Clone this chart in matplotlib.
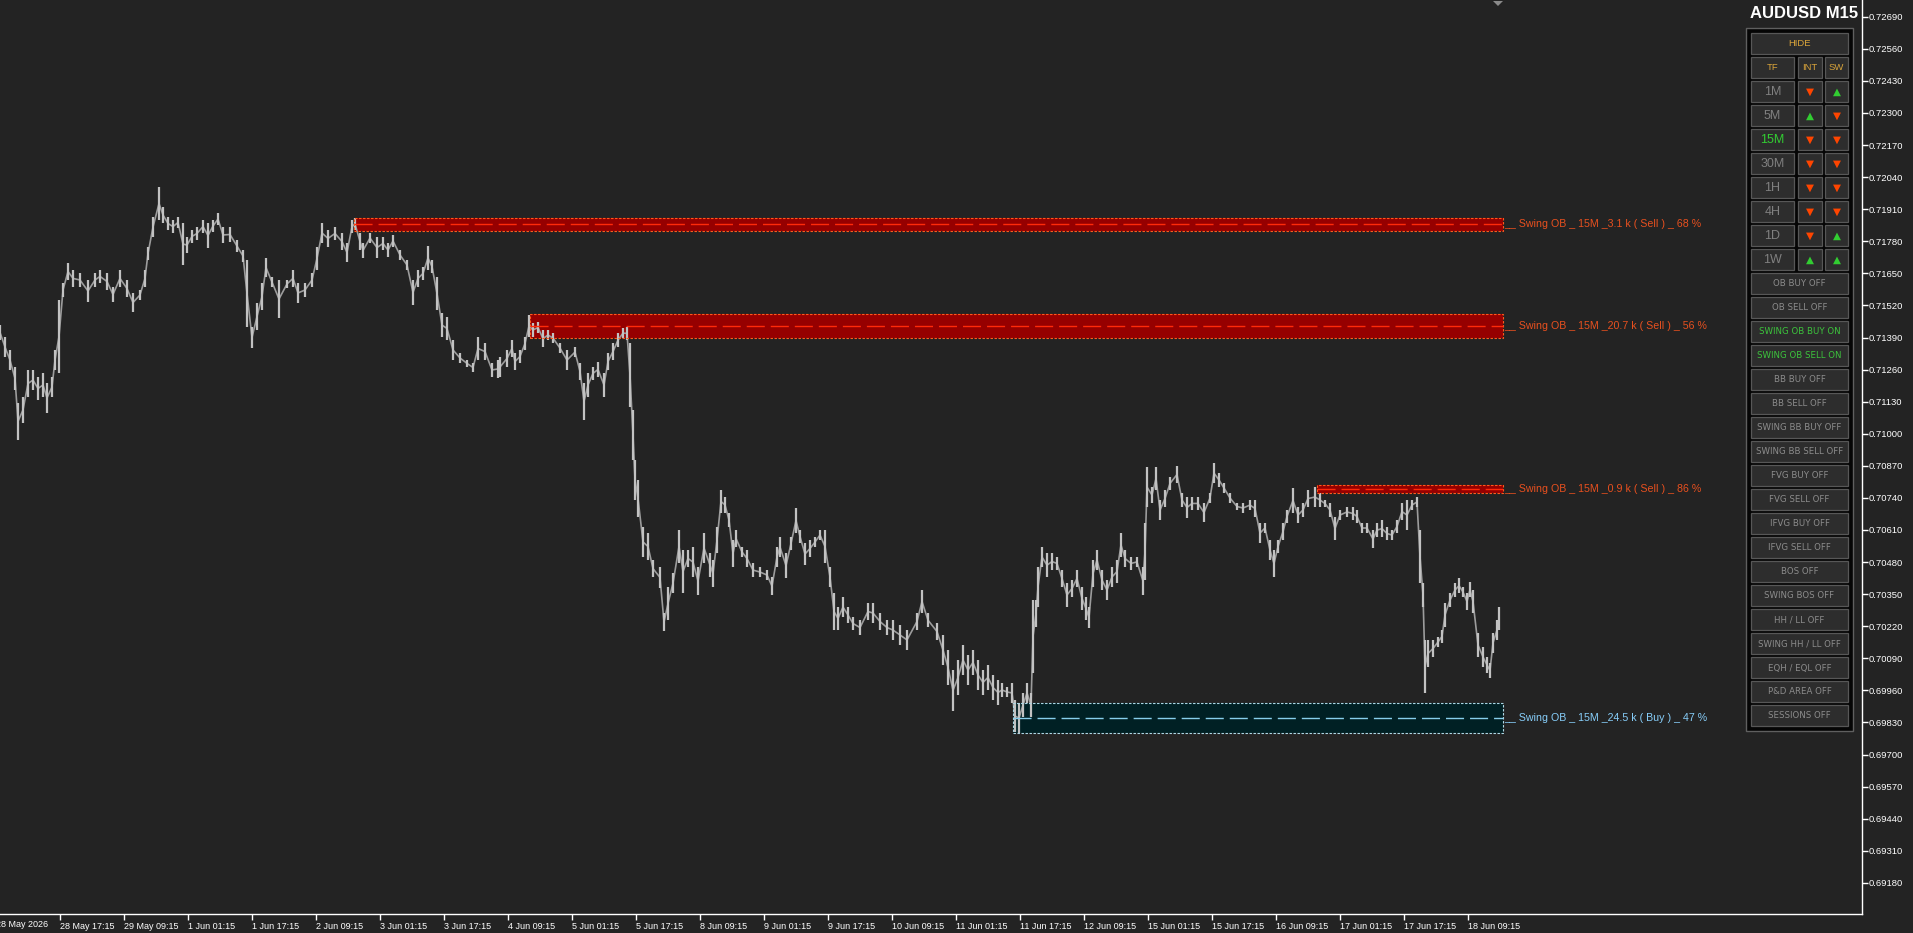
import matplotlib.pyplot as plt
from matplotlib.patches import Rectangle, Polygon
from matplotlib.transforms import blended_transform_factory
import numpy as np

BG = "#232323"

symbol_title = "AUDUSD M15"

bar_x = [
    0, 5, 10, 15, 18, 23, 28, 33, 38, 43, 47, 52, 55, 59, 63, 68, 73, 80, 88, 95,
    100, 107, 113, 120, 127, 133, 140, 145, 148, 153, 159, 163, 168, 173, 178, 183, 187, 192, 197, 203,
    208, 213, 218, 223, 230, 237, 243, 247, 252, 257, 262, 266, 272, 279, 287, 293, 298, 305, 312, 317,
    322, 328, 335, 342, 347, 352, 355, 360, 363, 370, 377, 383, 388, 393, 400, 407, 413, 418, 423, 428,
    432, 437, 442, 447, 453, 460, 467, 473, 478, 485, 492, 498,
    500, 507, 512, 515, 520, 525, 529, 533, 538, 543, 548, 553, 560, 567, 575, 580, 584, 588, 593, 598,
    604, 608, 613, 618, 623, 627, 630, 633, 635, 638, 643, 648, 653, 660, 664, 668, 673, 679, 683, 688,
    693, 698, 704, 710, 713, 717, 721, 725, 729, 733, 736, 742, 747, 753, 760, 767, 772, 777, 780, 786,
    791, 796, 800, 805, 810, 815, 820, 825, 830, 834, 838, 843, 848, 853, 860, 868, 873, 880, 887, 893,
    900, 907, 917, 922, 928, 937, 943, 948, 953, 958, 963, 968, 973, 978, 983, 988, 993, 998,
    1002, 1007, 1012, 1015, 1019, 1023, 1027, 1031, 1033, 1036, 1038, 1042, 1047, 1052, 1057, 1062, 1067, 1072, 1077, 1082,
    1086, 1089, 1093, 1097, 1102, 1107, 1112, 1117, 1121, 1125, 1131, 1137, 1143, 1145, 1147, 1152, 1156, 1160, 1165, 1170,
    1177, 1182, 1187, 1192, 1198, 1204, 1210, 1214, 1219, 1224, 1230, 1237, 1243, 1250, 1255, 1260, 1265, 1270, 1274, 1278,
    1283, 1287, 1293, 1298, 1303, 1308, 1315, 1320, 1325, 1330, 1335, 1340, 1347, 1353, 1357, 1362, 1367, 1373, 1377, 1382,
    1387, 1392, 1397, 1402, 1407, 1412, 1417, 1420, 1423, 1425, 1428, 1433, 1438, 1442, 1445, 1450, 1455, 1459, 1463, 1467,
    1470, 1473, 1478, 1483, 1487, 1490, 1493, 1497, 1499,
]

bar_high = [
    0.71441, 0.71392, 0.71339, 0.71271, 0.71125, 0.71149, 0.71258, 0.71258, 0.71230, 0.71246,
    0.71206, 0.71230, 0.71339, 0.71542, 0.71611, 0.71692, 0.71664, 0.71651, 0.71623, 0.71651,
    0.71664, 0.71651, 0.71595, 0.71664, 0.71623, 0.71570, 0.71583, 0.71664, 0.71757, 0.71878,
    0.72000, 0.71919, 0.71878, 0.71866, 0.71878, 0.71854, 0.71797, 0.71826, 0.71838, 0.71866,
    0.71854, 0.71866, 0.71894, 0.71838, 0.71838, 0.71785, 0.71745, 0.71704, 0.71433, 0.71530,
    0.71611, 0.71712, 0.71635, 0.71623, 0.71623, 0.71664, 0.71611, 0.71611, 0.71651, 0.71757,
    0.71854, 0.71826, 0.71838, 0.71813, 0.71773, 0.71866, 0.71874, 0.71813, 0.71773, 0.71813,
    0.71797, 0.71797, 0.71773, 0.71805, 0.71745, 0.71704, 0.71623, 0.71664, 0.71676, 0.71761,
    0.71704, 0.71635, 0.71489, 0.71473, 0.71380, 0.71327, 0.71299, 0.71287, 0.71392, 0.71367,
    0.71287, 0.71299,
    0.71311, 0.71339, 0.71380, 0.71327, 0.71339, 0.71392, 0.71481, 0.71449, 0.71453, 0.71420,
    0.71420, 0.71408, 0.71367, 0.71339, 0.71351, 0.71287, 0.71206, 0.71246, 0.71271, 0.71291,
    0.71246, 0.71327, 0.71367, 0.71408, 0.71428, 0.71433, 0.71367, 0.71096, 0.70894, 0.70813,
    0.70622, 0.70598, 0.70488, 0.70460, 0.70273, 0.70379, 0.70435, 0.70610, 0.70529, 0.70529,
    0.70541, 0.70460, 0.70598, 0.70516, 0.70488, 0.70622, 0.70772, 0.70744, 0.70679, 0.70569,
    0.70610, 0.70541, 0.70529, 0.70476, 0.70460, 0.70448, 0.70419, 0.70541, 0.70581, 0.70516,
    0.70581, 0.70699, 0.70610, 0.70557, 0.70569, 0.70581, 0.70610, 0.70610, 0.70460, 0.70354,
    0.70298, 0.70338, 0.70298, 0.70257, 0.70245, 0.70314, 0.70314, 0.70273, 0.70245, 0.70245,
    0.70225, 0.70205, 0.70273, 0.70367, 0.70273, 0.70233, 0.70184, 0.70124, 0.70043, 0.70083,
    0.70144, 0.70103, 0.70124, 0.70083, 0.70043, 0.70063, 0.70022, 0.70002,
    0.69990, 0.69974, 0.69990, 0.69921, 0.69909, 0.69949, 0.69990, 0.69949, 0.70326, 0.70326,
    0.70460, 0.70541, 0.70516, 0.70516, 0.70501, 0.70448, 0.70395, 0.70407, 0.70448, 0.70379,
    0.70338, 0.70298, 0.70488, 0.70529, 0.70448, 0.70407, 0.70460, 0.70488, 0.70598, 0.70529,
    0.70501, 0.70501, 0.70460, 0.70638, 0.70865, 0.70784, 0.70865, 0.70731, 0.70772, 0.70825,
    0.70869, 0.70760, 0.70744, 0.70744, 0.70744, 0.70719, 0.70760, 0.70881, 0.70841, 0.70800,
    0.70760, 0.70719, 0.70719, 0.70731, 0.70731, 0.70638, 0.70638, 0.70569, 0.70529, 0.70569,
    0.70638, 0.70691, 0.70780, 0.70703, 0.70719, 0.70772, 0.70784, 0.70760, 0.70731, 0.70719,
    0.70663, 0.70691, 0.70703, 0.70703, 0.70691, 0.70638, 0.70638, 0.70610, 0.70638, 0.70650,
    0.70622, 0.70610, 0.70650, 0.70719, 0.70731, 0.70731, 0.70744, 0.70610, 0.70395, 0.70164,
    0.70164, 0.70164, 0.70176, 0.70205, 0.70314, 0.70354, 0.70395, 0.70415, 0.70379, 0.70354,
    0.70399, 0.70367, 0.70193, 0.70136, 0.70095, 0.70071, 0.70193, 0.70245, 0.70298,
]

bar_low = [
    0.71380, 0.71311, 0.71258, 0.71177, 0.70975, 0.71044, 0.71149, 0.71177, 0.71137, 0.71149,
    0.71084, 0.71149, 0.71258, 0.71246, 0.71554, 0.71623, 0.71595, 0.71595, 0.71534, 0.71595,
    0.71611, 0.71583, 0.71534, 0.71595, 0.71554, 0.71493, 0.71542, 0.71595, 0.71704, 0.71797,
    0.71866, 0.71854, 0.71826, 0.71813, 0.71834, 0.71684, 0.71732, 0.71773, 0.71785, 0.71813,
    0.71753, 0.71817, 0.71846, 0.71773, 0.71777, 0.71736, 0.71696, 0.71433, 0.71347, 0.71420,
    0.71501, 0.71635, 0.71595, 0.71469, 0.71591, 0.71595, 0.71530, 0.71554, 0.71595, 0.71664,
    0.71773, 0.71757, 0.71785, 0.71745, 0.71696, 0.71813, 0.71826, 0.71745, 0.71712, 0.71773,
    0.71712, 0.71745, 0.71716, 0.71757, 0.71704, 0.71664, 0.71522, 0.71595, 0.71623, 0.71664,
    0.71651, 0.71501, 0.71392, 0.71380, 0.71299, 0.71287, 0.71271, 0.71250, 0.71299, 0.71299,
    0.71230, 0.71226,
    0.71230, 0.71271, 0.71311, 0.71258, 0.71287, 0.71339, 0.71392, 0.71392, 0.71408, 0.71351,
    0.71380, 0.71367, 0.71327, 0.71258, 0.71311, 0.71218, 0.71056, 0.71149, 0.71218, 0.71230,
    0.71149, 0.71258, 0.71299, 0.71351, 0.71388, 0.71380, 0.71108, 0.70894, 0.70731, 0.70663,
    0.70501, 0.70488, 0.70419, 0.70375, 0.70201, 0.70245, 0.70354, 0.70476, 0.70354, 0.70460,
    0.70419, 0.70346, 0.70476, 0.70419, 0.70379, 0.70516, 0.70679, 0.70679, 0.70622, 0.70460,
    0.70541, 0.70501, 0.70460, 0.70419, 0.70419, 0.70407, 0.70346, 0.70460, 0.70501, 0.70415,
    0.70529, 0.70598, 0.70557, 0.70468, 0.70501, 0.70541, 0.70569, 0.70476, 0.70379, 0.70205,
    0.70205, 0.70257, 0.70233, 0.70205, 0.70184, 0.70245, 0.70233, 0.70205, 0.70184, 0.70164,
    0.70144, 0.70124, 0.70205, 0.70273, 0.70216, 0.70164, 0.70063, 0.69982, 0.69877, 0.69941,
    0.70022, 0.69982, 0.70022, 0.69962, 0.69941, 0.69962, 0.69921, 0.69901,
    0.69933, 0.69933, 0.69909, 0.69791, 0.69787, 0.69852, 0.69909, 0.69852, 0.70031, 0.70217,
    0.70298, 0.70460, 0.70419, 0.70448, 0.70448, 0.70379, 0.70298, 0.70338, 0.70379, 0.70286,
    0.70245, 0.70213, 0.70379, 0.70448, 0.70367, 0.70326, 0.70379, 0.70395, 0.70501, 0.70460,
    0.70448, 0.70460, 0.70346, 0.70407, 0.70703, 0.70719, 0.70772, 0.70650, 0.70703, 0.70772,
    0.70800, 0.70703, 0.70658, 0.70691, 0.70691, 0.70642, 0.70719, 0.70800, 0.70784, 0.70760,
    0.70719, 0.70691, 0.70679, 0.70691, 0.70663, 0.70557, 0.70598, 0.70488, 0.70419, 0.70516,
    0.70569, 0.70638, 0.70679, 0.70638, 0.70663, 0.70703, 0.70703, 0.70703, 0.70703, 0.70663,
    0.70569, 0.70650, 0.70663, 0.70650, 0.70638, 0.70598, 0.70598, 0.70537, 0.70581, 0.70581,
    0.70569, 0.70569, 0.70598, 0.70650, 0.70610, 0.70691, 0.70703, 0.70395, 0.70298, 0.69950,
    0.70055, 0.70095, 0.70136, 0.70152, 0.70217, 0.70298, 0.70338, 0.70354, 0.70338, 0.70286,
    0.70338, 0.70273, 0.70095, 0.70055, 0.70031, 0.70010, 0.70112, 0.70164, 0.70205,
]

time_labels = ["28 May 2026", "28 May 17:15", "29 May 09:15", "1 Jun 01:15", "1 Jun 17:15",
               "2 Jun 09:15", "3 Jun 01:15", "3 Jun 17:15", "4 Jun 09:15", "5 Jun 01:15",
               "5 Jun 17:15", "8 Jun 09:15", "9 Jun 01:15", "9 Jun 17:15", "10 Jun 09:15",
               "11 Jun 01:15", "11 Jun 17:15", "12 Jun 09:15", "15 Jun 01:15", "15 Jun 17:15",
               "16 Jun 09:15", "17 Jun 01:15", "17 Jun 17:15", "18 Jun 09:15"]

# swing order blocks
ob_start = [354, 530, 1317, 1013]
ob_top = [0.71874, 0.71485, 0.70792, 0.69909]
ob_bottom = [0.71822, 0.71388, 0.70760, 0.69787]
ob_side = ["Sell", "Sell", "Sell", "Buy"]
ob_text = ["Swing OB _ 15M _3.1 k ( Sell ) _ 68 %",
           "Swing OB _ 15M _20.7 k ( Sell ) _ 56 %",
           "Swing OB _ 15M _0.9 k ( Sell ) _ 86 %",
           "Swing OB _ 15M _24.5 k ( Buy ) _ 47 %"]
ob_end = 1503

# dashboard
tf_names = ["1M", "5M", "15M", "30M", "1H", "4H", "1D", "1W"]
int_dir = ["down", "up", "down", "down", "down", "down", "down", "up"]
sw_dir = ["up", "down", "down", "down", "down", "down", "up", "up"]
toggle_names = ["OB BUY OFF", "OB SELL OFF", "SWING OB BUY ON", "SWING OB SELL ON",
                "BB BUY OFF", "BB SELL OFF", "SWING BB BUY OFF", "SWING BB SELL OFF",
                "FVG BUY OFF", "FVG SELL OFF", "IFVG BUY OFF", "IFVG SELL OFF",
                "BOS OFF", "SWING BOS OFF", "HH / LL OFF", "SWING HH / LL OFF",
                "EQH / EQL OFF", "P&D AREA OFF", "SESSIONS OFF"]

W, H = 1913, 933
fig = plt.figure(figsize=(W / 100, H / 100), dpi=100, facecolor=BG)
ax = fig.add_axes([0, 19.5 / H, 1862 / W, 913.5 / H])
ax.set_facecolor(BG)
ax.set_xlim(0, 1862)
ax.set_ylim(0.690558, 0.727577)

# bars
bx = np.array(bar_x)
bh = np.array(bar_high)
bl = np.array(bar_low)
ax.plot(bx, (bh + bl) / 2, color="#9C9C9C", lw=1.2, zorder=3)
ax.vlines(bx, bl, bh, colors="#C2C2C2", lw=1.6, zorder=4)

# order blocks
for x0, top, bot, side, txt in zip(ob_start, ob_top, ob_bottom, ob_side, ob_text):
    if side == "Sell":
        fill, edge, mid_c, txt_c = "#960000", "#FF5A1E", "#FF2A0A", "#E8501F"
    else:
        fill, edge, mid_c, txt_c = "#002024", "#ADD8E6", "#87CEEB", "#87CEFA"
    ax.add_patch(Rectangle((x0, bot), ob_end - x0, top - bot, facecolor=fill,
                           edgecolor="none", zorder=2))
    ax.add_patch(Rectangle((x0, bot), ob_end - x0, top - bot, facecolor="none",
                           edgecolor=edge, lw=0.8, linestyle=(0, (2.2, 1.4)), zorder=5))
    mid = (top + bot) / 2
    ax.plot([x0, ob_end], [mid, mid], color=mid_c, lw=1.0,
            linestyle=(0, (13, 4.3)), zorder=5)
    ax.text(ob_end + 1, mid, "__ " + txt, color=txt_c, fontsize=7.7,
            family="Liberation Sans", va="center", ha="left", zorder=6, clip_on=False)

# axes styling
for s in ["top", "left"]:
    ax.spines[s].set_visible(False)
for s in ["right", "bottom"]:
    ax.spines[s].set_color("white")
    ax.spines[s].set_linewidth(1.0)

price_ticks = np.round(0.69180 + 0.0013 * np.arange(28), 5)
ax.yaxis.tick_right()
ax.set_yticks(price_ticks)
ax.set_yticklabels([f"{p:.5f}" for p in price_ticks], family="Liberation Sans")
ax.tick_params(axis="y", colors="white", direction="out", length=4, width=1,
               labelsize=6.8, pad=1)

label_step = 64
xt = [60.3 + label_step * k for k in range(len(time_labels) - 1)]
ax.set_xticks(xt)
ax.set_xticklabels(time_labels[1:], ha="left", family="Liberation Sans")
ax.tick_params(axis="x", colors="white", direction="out", length=4, width=1,
               labelsize=6.5, pad=2)
trans = blended_transform_factory(ax.transData, ax.transAxes)
ax.text(60.3 - label_step, -0.0115, time_labels[0], color="white", fontsize=6.5,
        family="Liberation Sans", ha="left", va="center", transform=trans, clip_on=False)

# overlay in pixel coordinates
ov = fig.add_axes([0, 0, 1, 1], zorder=10)
ov.set_xlim(0, W)
ov.set_ylim(H, 0)
ov.axis("off")

ov.add_patch(Polygon([(1493, 1), (1503, 1), (1498, 6)], closed=True,
                     facecolor="#8A8A8A", edgecolor="none"))

ov.text(1858, 13, symbol_title, color="white", fontsize=12, fontweight="bold",
        family="Liberation Sans", ha="right", va="center")

ov.add_patch(Rectangle((1746, 28), 107, 703, facecolor="#050505",
                       edgecolor="#5F5F5F", lw=1.0))

BTN_FILL, BTN_EDGE = "#2D2D2D", "#575757"
GOLD, GREY, GREEN, RED = "#D9A43A", "#808080", "#32CD32", "#FF4500"


def button(x0, x1, yc, text, color, size, family="Liberation Sans"):
    ov.add_patch(Rectangle((x0, yc - 10.5), x1 - x0, 21, facecolor=BTN_FILL,
                           edgecolor=BTN_EDGE, lw=0.9))
    ov.text((x0 + x1) / 2, yc + 0.5, text, color=color, fontsize=size,
            family=family, ha="center", va="center")


row_y = lambda r: 43.5 + 24 * r

button(1751, 1848, row_y(0), "HIDE", GOLD, 6.8)
button(1751, 1794, row_y(1), "TF", GOLD, 6.8)
button(1798, 1822, row_y(1), "INT", GOLD, 6.8)
button(1825, 1848, row_y(1), "SW", GOLD, 6.8)

for i, (name, di, ds) in enumerate(zip(tf_names, int_dir, sw_dir)):
    yc = row_y(2 + i)
    button(1751, 1794, yc, name, GREEN if name == "15M" else GREY, 9)
    for x0, x1, d in [(1798, 1822, di), (1825, 1848, ds)]:
        button(x0, x1, yc, "▲" if d == "up" else "▼", GREEN if d == "up" else RED,
               7.5, family="DejaVu Sans")

for i, name in enumerate(toggle_names):
    col = "#3CC43C" if name.endswith(" ON") else "#8C8C8C"
    button(1751, 1848, row_y(10 + i), name, col, 6.2, family="DejaVu Sans")

fig.savefig("out.png", dpi=100, facecolor=BG)
